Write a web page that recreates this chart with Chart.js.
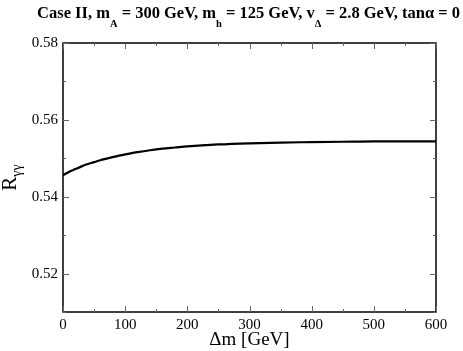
<!DOCTYPE html>
<html>
<head>
<meta charset="utf-8">
<script src="https://cdn.jsdelivr.net/npm/chart.js@4/dist/chart.umd.min.js"></script>
<style>
  html, body { margin: 0; padding: 0; background: #fff; }
  #wrap { width: 463px; height: 351px; }
</style>
</head>
<body>
<div id="wrap"><canvas id="plot" width="463" height="351"></canvas></div>
<script>
// mass splitting (GeV) and R_gamma-gamma
const deltaM = [0, 10, 20, 30, 40, 50, 60, 70, 80, 90, 100, 120, 140, 160, 180, 200, 250, 300, 350, 400, 450, 500, 550, 600];
const rGammaGamma = [0.5456, 0.5465, 0.5472, 0.5479, 0.5485, 0.5490, 0.5495, 0.5499, 0.5503, 0.5507, 0.5510, 0.5516, 0.5521, 0.5525, 0.5528, 0.5531, 0.5536, 0.5539, 0.5541, 0.5542, 0.5543, 0.5544, 0.5544, 0.5544];

const xMin = 0, xMax = 600, xStep = 50, xLabelStep = 100;
const yMin = 0.51, yMax = 0.58, yStep = 0.01;
const yLabels = [0.52, 0.54, 0.56, 0.58];

const serif = '"Liberation Serif", "DejaVu Serif", serif';

// frame, inward ticks (mirrored) and the text with subscripts
const framePlugin = {
    id: "frame",
    afterDraw(chart) {
        const ctx = chart.ctx;
        const a = chart.chartArea;
        const xs = chart.scales.x, ys = chart.scales.y;
        ctx.save();
        ctx.strokeStyle = "#000";
        ctx.lineWidth = 1.5;
        ctx.strokeRect(a.left, a.top, a.right - a.left, a.bottom - a.top);

        ctx.strokeStyle = "#666";
        ctx.lineWidth = 1;
        ctx.beginPath();
        xs.ticks.forEach(t => {
            const px = Math.round(xs.getPixelForValue(t.value)) + 0.5;
            const len = t.value % xLabelStep === 0 ? 6 : 3;
            ctx.moveTo(px, a.bottom); ctx.lineTo(px, a.bottom - len);
            ctx.moveTo(px, a.top); ctx.lineTo(px, a.top + len);
        });
        ys.ticks.forEach(t => {
            const py = Math.round(ys.getPixelForValue(t.value)) + 0.5;
            const major = Math.round(t.value * 100) % 2 === 0;
            const len = major ? 6 : 3;
            ctx.moveTo(a.left, py); ctx.lineTo(a.left + len, py);
            ctx.moveTo(a.right, py); ctx.lineTo(a.right - len, py);
        });
        ctx.stroke();

        // title
        ctx.fillStyle = "#000";
        ctx.textBaseline = "alphabetic";
        ctx.textAlign = "left";
        const parts = [
            ["Case II, m", 0], ["A", 1], [" = 300 GeV, m", 0], ["h", 1],
            [" = 125 GeV, v", 0], ["\u0394", 1], [" = 2.8 GeV, tan\u03b1 = 0", 0]
        ];
        const mainFont = "bold 16.5px " + serif, subFont = "bold 10.5px " + serif;
        let w = 0;
        parts.forEach(p => { ctx.font = p[1] ? subFont : mainFont; w += ctx.measureText(p[0]).width; });
        let x = 460 - w;
        parts.forEach(p => {
            ctx.font = p[1] ? subFont : mainFont;
            ctx.fillText(p[0], x, p[1] ? 27 : 18);
            x += ctx.measureText(p[0]).width;
        });

        // x axis title
        ctx.font = "19px " + serif;
        ctx.textAlign = "center";
        ctx.fillText("\u0394m [GeV]", (a.left + a.right) / 2, 345);

        // y axis title
        ctx.translate(16, (a.top + a.bottom) / 2);
        ctx.rotate(-Math.PI / 2);
        ctx.font = "21px " + serif;
        ctx.textAlign = "left";
        const rw = ctx.measureText("R").width;
        ctx.font = "14px " + serif;
        const gw = ctx.measureText("\u03b3\u03b3").width;
        let sx = -(rw + gw) / 2;
        ctx.font = "21px " + serif;
        ctx.fillText("R", sx, 0);
        ctx.font = "14px " + serif;
        ctx.fillText("\u03b3\u03b3", sx + rw, 5);
        ctx.restore();
    }
};

new Chart(document.getElementById("plot"), {
    type: "line",
    data: {
        datasets: [{
            data: deltaM.map((m, i) => ({ x: m, y: rGammaGamma[i] })),
            borderColor: "#000",
            borderWidth: 2.2,
            pointRadius: 0,
            fill: false,
            cubicInterpolationMode: "monotone"
        }]
    },
    options: {
        responsive: false,
        animation: false,
        layout: { padding: { top: 43, right: 27, left: 0, bottom: 0 } },
        plugins: { legend: { display: false }, tooltip: { enabled: false }, title: { display: false } },
        scales: {
            x: {
                type: "linear",
                min: xMin, max: xMax,
                grid: { display: false, drawTicks: false },
                border: { display: false },
                ticks: {
                    stepSize: xStep,
                    autoSkip: false,
                    maxRotation: 0,
                    padding: 4,
                    color: "#000",
                    font: { family: serif, size: 15 },
                    callback: v => (v % xLabelStep === 0 ? String(v) : "")
                },
                afterFit: s => { s.height = 39; }
            },
            y: {
                type: "linear",
                min: yMin, max: yMax,
                grid: { display: false, drawTicks: false },
                border: { display: false },
                ticks: {
                    stepSize: yStep,
                    autoSkip: false,
                    padding: 5,
                    color: "#000",
                    font: { family: serif, size: 15 },
                    callback: v => (yLabels.some(l => Math.abs(l - v) < 1e-6) ? v.toFixed(2) : "")
                },
                afterFit: s => { s.width = 63; }
            }
        }
    },
    plugins: [framePlugin]
});
</script>
</body>
</html>
